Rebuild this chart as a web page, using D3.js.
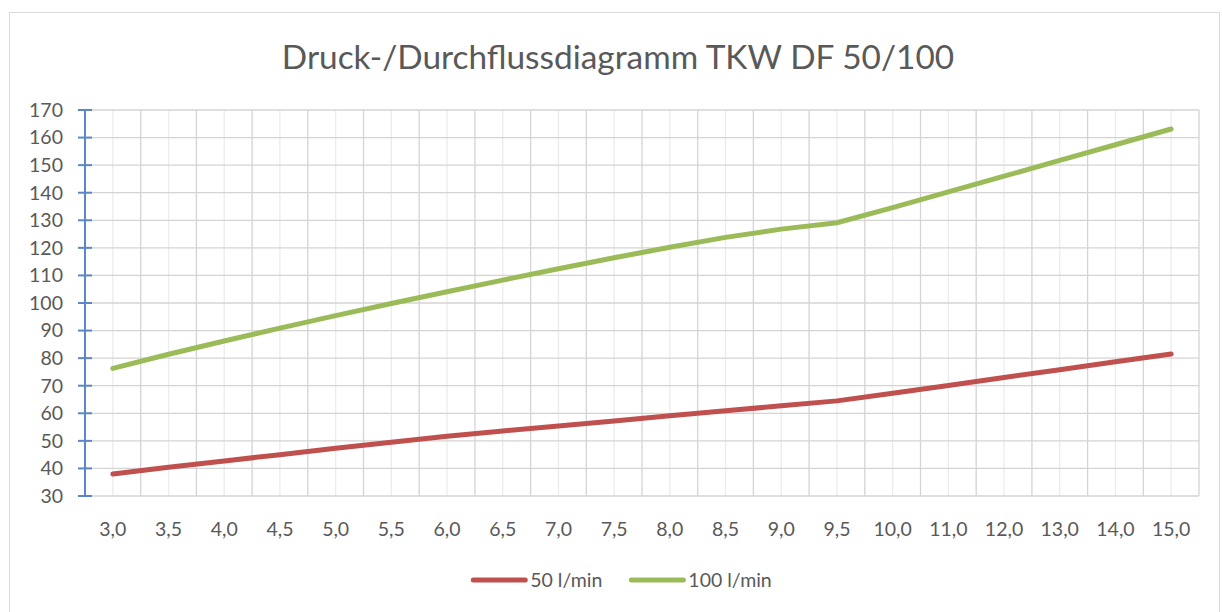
<!DOCTYPE html>
<html>
<head>
<meta charset="utf-8">
<script src="https://cdn.jsdelivr.net/npm/d3@7"></script>
<style>
  body { margin: 0; background: #fff; }
  svg { display: block; font-family: Lato, "Open Sans", sans-serif; }
</style>
</head>
<body>
<svg id="chart" width="1222" height="612"></svg>
<script>
// category labels (x axis) and pressure values per flow rate
let categories = ["3,0","3,5","4,0","4,5","5,0","5,5","6,0","6,5","7,0","7,5","8,0","8,5","9,0","9,5",
                  "10,0","11,0","12,0","13,0","14,0","15,0"]
let series50 = [38.0,40.4,42.7,45.0,47.3,49.5,51.7,53.6,55.4,57.2,59.1,60.9,62.7,64.5,
                67.3,70.1,73.0,75.8,78.7,81.5]
let series100 = [76.3,81.4,86.2,90.9,95.4,99.8,104.1,108.3,112.4,116.4,120.2,123.8,126.8,129.1,
                 134.6,140.3,146.0,151.7,157.4,163.1]
let yTicks = [30,40,50,60,70,80,90,100,110,120,130,140,150,160,170]
let seriesNames = ["50 l/min", "100 l/min"]
let seriesColors = ["#c0504d", "#9bbb59"]

let plotLeft = 85, plotRight = 1199, plotTop = 110, plotBottom = 496
let textColor = "#595959"

let svg = d3.select("#chart")

// chart border
svg.append("rect")
    .attr("x", 9.5).attr("y", 12.5)
    .attr("width", 1210).attr("height", 620)
    .attr("fill", "white")
    .attr("stroke", "#d9d9d9");

// title
svg.append("text")
    .attr("x", 618).attr("y", 69)
    .attr("text-anchor", "middle")
    .style("font-size", "33.4px")
    .style("fill", textColor)
    .text("Druck-/Durchflussdiagramm TKW DF 50/100");

let x = d3.scaleBand().domain(categories).range([plotLeft, plotRight])
let y = d3.scaleLinear().domain([30, 170]).range([plotBottom, plotTop])
let cx = d => x(d) + x.bandwidth() / 2

let g = svg.append("g")

// minor vertical gridlines (category centers)
g.selectAll(".minor").data(categories).join("line")
    .attr("x1", cx).attr("x2", cx)
    .attr("y1", plotTop).attr("y2", plotBottom)
    .attr("stroke", "#ececec").attr("stroke-width", 1.3);

// major vertical gridlines (band edges)
let edges = categories.map(c => x(c) + x.bandwidth())
g.selectAll(".major").data(edges).join("line")
    .attr("x1", d => d).attr("x2", d => d)
    .attr("y1", plotTop).attr("y2", plotBottom)
    .attr("stroke", "#d4d4d4").attr("stroke-width", 1.3);

// horizontal gridlines
g.selectAll(".hgrid").data(yTicks).join("line")
    .attr("x1", plotLeft).attr("x2", plotRight)
    .attr("y1", d => y(d)).attr("y2", d => y(d))
    .attr("stroke", "#d4d4d4").attr("stroke-width", 1.3);

// y axis (blue, ticks crossing)
g.append("line")
    .attr("x1", plotLeft).attr("x2", plotLeft)
    .attr("y1", plotTop).attr("y2", plotBottom)
    .attr("stroke", "#5b87c8").attr("stroke-width", 2);
g.selectAll(".ytick").data(yTicks).join("line")
    .attr("x1", plotLeft - 7).attr("x2", plotLeft + 7)
    .attr("y1", d => y(d)).attr("y2", d => y(d))
    .attr("stroke", "#5b87c8").attr("stroke-width", 2);

// y tick labels
g.selectAll(".ylab").data(yTicks).join("text")
    .attr("x", 63).attr("y", d => y(d))
    .attr("dy", "0.35em")
    .attr("text-anchor", "end")
    .style("font-size", "19.5px")
    .style("fill", textColor)
    .text(d => d);

// x tick labels
g.selectAll(".xlab").data(categories).join("text")
    .attr("x", cx).attr("y", 536)
    .attr("text-anchor", "middle")
    .style("font-size", "19.5px")
    .style("fill", textColor)
    .text(d => d);

// data lines
let allSeries = [series50, series100]
let line = d3.line()
    .x((d, i) => cx(categories[i]))
    .y(d => y(d))
allSeries.forEach((s, k) => {
    g.append("path")
        .datum(s)
        .attr("d", line)
        .attr("fill", "none")
        .attr("stroke", seriesColors[k])
        .attr("stroke-width", 5)
        .attr("stroke-linecap", "round")
        .attr("stroke-linejoin", "round");
});

// legend, centered below the plot
let legend = svg.append("g")
let lx = 0
seriesNames.forEach((name, k) => {
    let item = legend.append("g").attr("transform", "translate(" + lx + ",0)")
    item.append("line")
        .attr("x1", 2).attr("x2", 54)
        .attr("y1", 0).attr("y2", 0)
        .attr("stroke", seriesColors[k])
        .attr("stroke-width", 5)
        .attr("stroke-linecap", "round");
    let t = item.append("text")
        .attr("x", 59).attr("y", 0)
        .attr("dy", "0.35em")
        .style("font-size", "19.5px")
        .style("fill", textColor)
        .text(name);
    lx += 59 + t.node().getComputedTextLength() + 27
});
let legendWidth = lx - 27
legend.attr("transform", "translate(" + (621.5 - legendWidth / 2) + ",580)")
</script>
</body>
</html>
